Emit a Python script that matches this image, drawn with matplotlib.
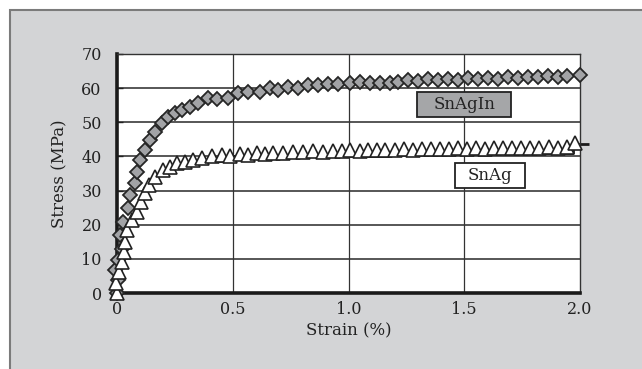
import matplotlib
matplotlib.use("Agg")
import matplotlib.pyplot as plt
from matplotlib.patches import Rectangle

# SnAgIn (grey diamonds)
snagin_strain = [0.0, 0.005, -0.009, 0.005, 0.02, 0.013, 0.027, 0.049, 0.056, 0.078, 0.085,
                 0.099, 0.121, 0.143, 0.164, 0.193, 0.222, 0.25, 0.28, 0.315, 0.351, 0.394,
                 0.431, 0.481, 0.524, 0.567, 0.618, 0.661, 0.697, 0.740, 0.783, 0.826,
                 0.870, 0.913, 0.956, 1.006, 1.050, 1.093, 1.136, 1.179, 1.215,
                 1.258, 1.301, 1.344, 1.387, 1.430, 1.473, 1.516, 1.559, 1.602, 1.645,
                 1.688, 1.731, 1.774, 1.817, 1.860, 1.903, 1.946, 1.998]
snagin_stress = [0.0, 3.8, 6.7, 9.7, 13.0, 17.0, 20.9, 24.8, 28.7, 32.2, 35.5,
                 39.0, 41.9, 44.8, 47.2, 49.7, 51.6, 52.6, 53.6, 54.6, 55.6, 57.0,
                 56.7, 57.0, 58.5, 59.0, 59.0, 60.0, 59.5, 60.4, 60.0, 60.9,
                 60.9, 61.2, 61.2, 61.4, 61.9, 61.6, 61.6, 61.6, 61.9,
                 62.3, 62.0, 62.6, 62.3, 62.8, 62.5, 63.0, 62.7, 63.1, 62.8,
                 63.3, 63.0, 63.4, 63.2, 63.5, 63.3, 63.6, 63.8]

# SnAg (white triangles)
snag_strain = [0.0, -0.005, 0.01, 0.02, 0.03, 0.035, 0.045, 0.065, 0.085, 0.105, 0.12,
               0.14, 0.165, 0.2, 0.229, 0.258, 0.294, 0.33, 0.366,
               0.409, 0.452, 0.488, 0.531, 0.567, 0.603, 0.639, 0.675, 0.719, 0.762,
               0.805, 0.848, 0.891, 0.934, 0.971, 1.006, 1.050, 1.086, 1.122, 1.158,
               1.201, 1.240, 1.279, 1.318, 1.357, 1.396, 1.435, 1.474, 1.513, 1.552,
               1.591, 1.630, 1.669, 1.708, 1.747, 1.786, 1.825, 1.864, 1.903, 1.942, 1.980]
snag_stress = [0.0, 2.8, 6.2, 9.2, 12.1, 15.0, 18.5, 21.4, 23.8, 26.7, 29.2,
               31.6, 34.0, 36.0, 37.0, 38.0, 38.5, 39.0, 39.5,
               40.0, 40.3, 40.2, 40.6, 40.5, 40.9, 40.8, 41.1, 41.0, 41.3,
               41.2, 41.5, 41.4, 41.7, 41.6, 41.8, 41.7, 41.9, 41.8, 42.0,
               41.9, 42.1, 42.0, 42.2, 42.1, 42.3, 42.2, 42.4, 42.3, 42.4,
               42.3, 42.5, 42.4, 42.5, 42.4, 42.6, 42.5, 42.7, 42.6, 42.8, 43.8]

# stepped black curve showing under the SnAg markers
snag_line_strain = [0.26, 0.33, 0.33, 0.5, 0.5, 1.17, 1.17, 1.97, 1.97, 2.04]
snag_line_stress = [37.6, 37.6, 38.8, 38.8, 40.1, 40.1, 41.0, 41.0, 43.5, 43.5]

x_ticks = [0, 0.5, 1.0, 1.5, 2.0]
x_ticklabels = ["0", "0.5", "1.0", "1.5", "2.0"]
y_ticks = list(range(0, 71, 10))

labels = ["SnAgIn", "SnAg"]
label_boxes = [(1.297, 51.5, 0.405, 7.3), (1.460, 30.7, 0.304, 7.5)]
label_colors = ["#a5a6a8", "white"]

plt.rcParams["font.family"] = ["DejaVu Serif"]

fig = plt.figure(figsize=(6.42, 3.69), dpi=100)
fig.patch.set_facecolor("white")
fig.patches.append(Rectangle((10 / 642, -0.1), 1.2, 1.1 - 10 / 369,
                             transform=fig.transFigure, facecolor="#d3d4d6",
                             edgecolor="#7b7b7b", linewidth=1.5, zorder=-1))

ax = fig.add_axes([117 / 642, 1 - 293 / 369, 463 / 642, 239 / 369])
ax.set_facecolor("white")

for y in y_ticks[1:]:
    ax.axhline(y, color="#3a3a3a", linewidth=1.2, zorder=1)
for x in x_ticks[1:-1]:
    ax.axvline(x, color="#333333", linewidth=0.9, zorder=1)

ax.plot(snag_line_strain, snag_line_stress, color="#1a1a1a", linewidth=2.0,
        zorder=2, clip_on=False, solid_capstyle="butt")
ax.plot(snagin_strain, snagin_stress, linestyle="none", marker="D", markersize=7.0,
        markerfacecolor="#a2a3a6", markeredgecolor="#262626", markeredgewidth=1.3,
        zorder=3, clip_on=False)
ax.plot(snag_strain, snag_stress, linestyle="none", marker="^", markersize=9.5,
        markerfacecolor="white", markeredgecolor="#222222", markeredgewidth=1.2,
        zorder=4, clip_on=False)

for text, (bx, by, bw, bh), fc in zip(labels, label_boxes, label_colors):
    ax.add_patch(Rectangle((bx, by), bw, bh, facecolor=fc, edgecolor="#222222",
                           linewidth=1.3, zorder=5))
    ax.text(bx + bw / 2, by + bh / 2, text, ha="center", va="center",
            fontsize=12, color="#222222", zorder=6)

ax.set_xlim(0, 2.0)
ax.set_ylim(0, 70)
ax.set_xticks(x_ticks)
ax.set_xticklabels(x_ticklabels)
ax.set_yticks(y_ticks)
ax.tick_params(axis="x", length=0, pad=6, labelsize=11.5, colors="#222222")
ax.tick_params(axis="y", direction="in", length=4, width=1, pad=11,
               labelsize=11.5, colors="#222222")

for side in ["left", "bottom"]:
    ax.spines[side].set_linewidth(2.6)
    ax.spines[side].set_color("#1a1a1a")
for side in ["top", "right"]:
    ax.spines[side].set_linewidth(1.0)
    ax.spines[side].set_color("#333333")

ax.set_xlabel("Strain (%)", fontsize=12, color="#222222", labelpad=3)
ax.set_ylabel("Stress (MPa)", fontsize=12, color="#222222", labelpad=9)

fig.savefig("out.png", dpi=100)
